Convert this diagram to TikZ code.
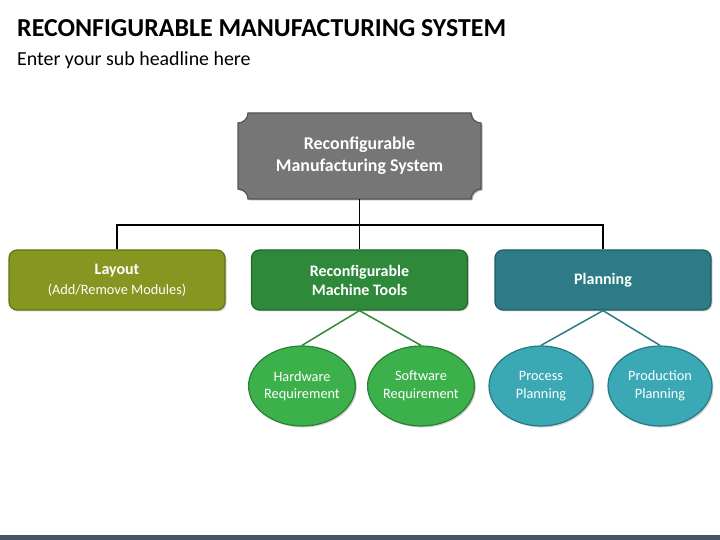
\documentclass[tikz,border=0pt]{standalone}
\usepackage{fontspec}
\setmainfont{Carlito}
\usetikzlibrary{shapes.geometric,shadows}
\definecolor{topfill}{RGB}{118,118,118}
\definecolor{topdraw}{RGB}{85,85,85}
\definecolor{olive}{RGB}{134,150,33}
\definecolor{olivedk}{RGB}{100,112,25}
\definecolor{gbox}{RGB}{46,137,58}
\definecolor{gboxdk}{RGB}{34,102,43}
\definecolor{tbox}{RGB}{44,123,134}
\definecolor{tboxdk}{RGB}{31,92,100}
\definecolor{gell}{RGB}{60,176,75}
\definecolor{gelldk}{RGB}{40,130,52}
\definecolor{tell}{RGB}{59,168,181}
\definecolor{telldk}{RGB}{38,122,132}
\definecolor{barc}{RGB}{68,84,106}
\tikzset{
  boxnode/.style={rectangle, rounded corners=8pt, minimum width=216pt, minimum height=60pt,
    draw, line width=1.2pt, text=white, align=center, font=\fontsize{16}{19}\selectfont\bfseries,
    drop shadow={opacity=0.35, shadow xshift=1.5pt, shadow yshift=-1.5pt}},
  ellnode/.style={ellipse, minimum width=104pt, minimum height=80pt, inner sep=0pt,
    draw, line width=1.2pt, text=white, align=center, font=\fontsize{14.3}{17.5}\selectfont,
    drop shadow={opacity=0.35, shadow xshift=1.5pt, shadow yshift=-1.5pt}},
  treeline/.style={line width=1.6pt, black},
  subline/.style={line width=1.5pt}
}
\begin{document}
\begin{tikzpicture}[x=1pt,y=1pt]
\useasboundingbox (0,0) rectangle (720,540);
% bottom bar
\fill[barc] (0,0) rectangle (720,5);
% titles
\node[anchor=base west, inner sep=0pt, font=\fontsize{25.9}{30}\selectfont\bfseries] (title) at (17,503) {RECONFIGURABLE MANUFACTURING SYSTEM};
\node[anchor=base west, inner sep=0pt, font=\fontsize{19.9}{23}\selectfont] (subtitle) at (17,474) {Enter your sub headline here};
% top plaque
\fill[black, opacity=0.3] (249.5,425.5) -- (472.5,425.5) arc[start angle=180,end angle=270,radius=10] -- (482.5,349.5) arc[start angle=90,end angle=180,radius=10] -- (249.5,339.5) arc[start angle=0,end angle=90,radius=10] -- (239.5,415.5) arc[start angle=-90,end angle=0,radius=10] -- cycle;
\filldraw[fill=topfill, draw=topdraw, line width=1.2pt] (248,427) -- (471,427) arc[start angle=180,end angle=270,radius=10] -- (481,351) arc[start angle=90,end angle=180,radius=10] -- (248,341) arc[start angle=0,end angle=90,radius=10] -- (238,417) arc[start angle=-90,end angle=0,radius=10] -- cycle;
\node[minimum width=243pt, minimum height=86pt, text=white, align=center, font=\fontsize{17.9}{22}\selectfont\bfseries] (top) at (359.5,384) {Reconfigurable\\Manufacturing System};
% second level
\node[boxnode, fill=olive, draw=olivedk] (lay) at (117,260) {Layout\\[1pt]{\fontsize{14.3}{16}\selectfont\mdseries (Add/Remove Modules)}};
\node[boxnode, fill=gbox, draw=gboxdk] (rmt) at (359.5,260) {Reconfigurable\\Machine Tools};
\node[boxnode, fill=tbox, draw=tboxdk] (plan) at (603,260) {Planning};
% ellipses
\node[ellnode, fill=gell, draw=gelldk] (hw) at (302,154) {Hardware\\Requirement};
\node[ellnode, fill=gell, draw=gelldk] (sw) at (421,154) {Software\\Requirement};
\node[ellnode, fill=tell, draw=telldk] (pp) at (541,154) {Process\\Planning};
\node[ellnode, fill=tell, draw=telldk] (prp) at (660,154) {Production\\Planning};
% tree connectors
\coordinate (bus) at (359.5,315);
\draw[treeline] (top.south) -- (rmt.north);
\draw[treeline] (lay.north) |- (bus) -| (plan.north);
% sub connectors
\draw[subline, gbox] (rmt.south) -- (hw.north);
\draw[subline, gbox] (rmt.south) -- (sw.north);
\draw[subline, tbox] (plan.south) -- (pp.north);
\draw[subline, tbox] (plan.south) -- (prp.north);
\end{tikzpicture}
\end{document}
